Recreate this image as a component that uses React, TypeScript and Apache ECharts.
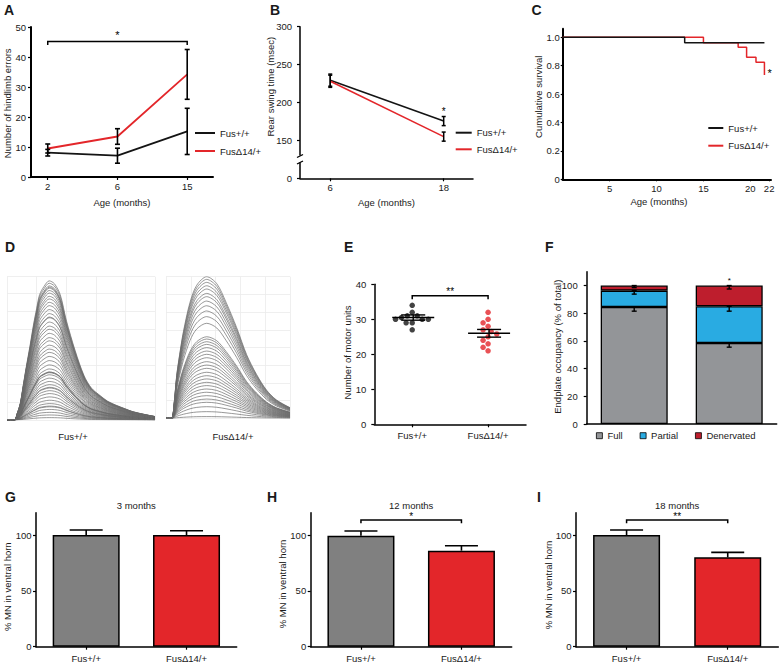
import React, { useEffect, useRef } from 'react';
import * as echarts from 'echarts';

const FONT = '"Liberation Sans", Arial, Helvetica, sans-serif';
const INK = '#1a1a1a';
const BLACK = '#141414';
const RED = '#e3262a';
const GRAY_BAR = '#808080';
const TRACE = '#6c6c6c';

// ---------- A : hindlimb errors ----------
const A_AGE_LABELS = ['2', '6', '15'];
const A_WT = [8.1, 7.1, 15.2];
const A_WT_ERR = [1.1, 2.5, 7.7];
const A_MUT = [9.5, 13.5, 34.2];
const A_MUT_ERR = [1.5, 2.6, 8.3];
const A_BRACKET = { from: 0, to: 2, value: 45.2, text: '*' };

// ---------- B : rear swing time ----------
const B_AGES = [6, 18];
const B_WT = [229.5, 175.5];
const B_WT_ERR = [8, 6];
const B_MUT = [228, 155];
const B_MUT_ERR = [8, 6];
const B_AXIS_FLOOR = 100; // broken axis, drawn as 0
const B_STAR = { x: 18, y: 188, text: '*' };

// ---------- C : survival ----------
const C_WT_T = [0, 13, 21.5];
const C_WT_S = [1, 0.962, 0.962];
const C_MUT_T = [0, 15, 18.7, 19.6, 20.6, 21.5];
const C_MUT_S = [1, 0.962, 0.93, 0.86, 0.824, 0.735];
const C_XTICKS = [5, 10, 15, 20, 22];
const C_YTICKS = [0, 0.2, 0.4, 0.6, 0.8, 1.0];
const C_STAR = { x: 22.05, y: 0.749, text: '*' };

// ---------- D : motor unit traces ----------
const D_WT_T = [0, 5, 7, 9, 11, 13, 15.5, 18, 20, 22, 25, 28.5, 32, 36, 40, 46, 52, 57, 63, 68, 74, 80, 85, 93, 100];
const D_WT_H = [0, 0, 0.05, 0.12, 0.25, 0.38, 0.53, 0.69, 0.8, 0.9, 0.96, 1, 0.98, 0.9, 0.72, 0.5, 0.32, 0.23, 0.175, 0.135, 0.105, 0.08, 0.06, 0.04, 0.025];
const D_WT_AMPS = [1.0, 0.983, 0.964, 0.955, 0.948, 0.931, 0.912, 0.889, 0.87, 0.846, 0.822, 0.794, 0.765, 0.74, 0.735, 0.704, 0.675, 0.652, 0.623, 0.592, 0.569, 0.538, 0.51, 0.486, 0.457, 0.427, 0.396, 0.367, 0.345, 0.344, 0.34, 0.325, 0.301, 0.277, 0.254, 0.235, 0.23, 0.211, 0.19, 0.166, 0.142, 0.118, 0.1, 0.095, 0.076, 0.055, 0.036, 0.017];
const D_MUT_T = [0, 4.5, 6.5, 8.6, 11, 14, 19.4, 24.8, 32.8, 41, 48.4, 57, 65, 73, 81, 89, 100];
const D_MUT_H = [0, 0, 0.1, 0.3, 0.45, 0.61, 0.82, 0.94, 1.0, 0.95, 0.82, 0.64, 0.45, 0.31, 0.2, 0.13, 0.075];
const D_MUT_AMPS = [1.0, 0.981, 0.96, 0.936, 0.913, 0.882, 0.859, 0.828, 0.795, 0.758, 0.718, 0.671, 0.576, 0.56, 0.541, 0.522, 0.499, 0.475, 0.452, 0.428, 0.4, 0.376, 0.353, 0.325, 0.301, 0.278, 0.254, 0.231, 0.207, 0.184, 0.16, 0.136, 0.113, 0.082, 0.047, 0.012];
const D_LABELS = ['Fus+/+', 'FusΔ14/+'];

// ---------- E : motor unit number ----------
const E_GROUPS = ['Fus+/+', 'FusΔ14/+'];
const E_WT = [34, 32, 31, 31, 30.5, 30, 30, 30, 29, 29, 27];
const E_MUT = [32, 30, 29, 28, 27, 26.5, 25.8, 25, 24, 23, 22, 21];
const E_MEAN = [30.5, 26];
const E_SEM = [0.75, 1.1];
const E_BRACKET = { from: 0, to: 1, value: 36.7, text: '**' };

// ---------- F : endplate occupancy ----------
const F_GROUPS = ['Fus+/+', 'FusΔ14/+'];
const F_FULL = [84.5, 58.5];
const F_PARTIAL = [11.8, 26.5];
const F_DENERV = [3.7, 15];
const F_FULL_ERR = [3, 3];
const F_PARTIAL_ERR = [2.5, 3.5];
const F_DENERV_ERR = [1.5, 2.5];
const F_YTICKS = [0, 20, 40, 60, 80, 100];
const F_STAR = { x: 1, y: 103.8, text: '*' };

// ---------- G H I : MN counts ----------
const MN_GROUPS = ['Fus+/+', 'FusΔ14/+'];
const MN_YTICKS = [0, 50, 100];
const G_VALUES = [100, 100];
const G_ERR = [4.5, 3.8];
const H_VALUES = [99.4, 86];
const H_ERR = [4.2, 4.4];
const I_VALUES = [100, 80];
const I_ERR = [4.5, 4.5];
const H_BRACKET = { from: 0, to: 1, value: 113.4, text: '*' };
const I_BRACKET = { from: 0, to: 1, value: 113.4, text: '**' };

// ---------- helpers ----------
const axisLineS = (w = 1.5) => ({ show: true, onZero: false, lineStyle: { color: '#000', width: w } });
const tickS = (len = 3, extra: any = {}) => ({ show: true, length: len, lineStyle: { color: '#000', width: 1.2 }, ...extra });
const labelS = (margin: number, extra: any = {}) => ({ fontSize: 9.5, color: INK, fontFamily: FONT, margin, ...extra });
const noSplit = { show: false };
const nameStyle = { fontSize: 9.5, color: INK, fontFamily: FONT };

const seg = (x1: number, y1: number, x2: number, y2: number, w = 1.5) => ({
  type: 'line',
  shape: { x1, y1, x2, y2 },
  style: { stroke: '#000', lineWidth: w },
});

const errBarRender = (capHalf: number, mode: 'both' | 'up' | 'down', w = 1.5) => (params: any, api: any) => {
  const x = api.value(0);
  const y = api.value(1);
  const e = api.value(2);
  const lo = mode === 'up' ? y : y - e;
  const hi = mode === 'down' ? y : y + e;
  const p1 = api.coord([x, lo]);
  const p2 = api.coord([x, hi]);
  const children: any[] = [seg(p1[0], p1[1], p2[0], p2[1], w)];
  if (mode !== 'up') children.push(seg(p1[0] - capHalf, p1[1], p1[0] + capHalf, p1[1], w));
  children.push(seg(p2[0] - capHalf, p2[1], p2[0] + capHalf, p2[1], w));
  return { type: 'group', children };
};

const textEl = (text: string, x: number, y: number, size = 11) => ({
  type: 'text',
  x,
  y,
  style: {
    text,
    fill: '#000',
    fontSize: size,
    fontFamily: FONT,
    align: 'center',
    verticalAlign: 'middle',
    textAlign: 'center',
    textVerticalAlign: 'middle',
  },
});

const bracketSeries = (axis: number, b: any, drop: number, gap: number, size = 11) => ({
  type: 'custom',
  xAxisIndex: axis,
  yAxisIndex: axis,
  silent: true,
  z: 5,
  data: [[b.from, b.value]],
  renderItem: (params: any, api: any) => {
    const p1 = api.coord([b.from, b.value]);
    const p2 = api.coord([b.to, b.value]);
    return {
      type: 'group',
      children: [
        {
          type: 'polyline',
          shape: { points: [[p1[0], p1[1] + drop], [p1[0], p1[1]], [p2[0], p2[1]], [p2[0], p2[1] + drop]] },
          style: { stroke: '#000', lineWidth: 1.5, fill: 'none' },
        },
        textEl(b.text, (p1[0] + p2[0]) / 2, p1[1] - gap, size),
      ],
    };
  },
});

const starSeries = (axis: number, s: any, size = 11) => ({
  type: 'custom',
  xAxisIndex: axis,
  yAxisIndex: axis,
  silent: true,
  z: 5,
  data: [[s.x, s.y]],
  renderItem: (params: any, api: any) => {
    const p = api.coord([s.x, s.y]);
    return textEl(s.text, p[0], p[1], size);
  },
});

const gText = (text: string, x: number, y: number, opts: any = {}) => ({
  type: 'text',
  x,
  y,
  rotation: opts.rot || 0,
  z: 100,
  style: {
    text,
    fill: INK,
    fontSize: opts.size || 9.5,
    fontWeight: opts.weight || 'normal',
    fontFamily: FONT,
    align: opts.align || 'center',
    verticalAlign: 'middle',
    textAlign: opts.align || 'center',
    textVerticalAlign: 'middle',
  },
});

const traceSeries = (ts: number[], hs: number[], amps: number[], axis: number) =>
  amps.map((a) => ({
    type: 'line',
    xAxisIndex: axis,
    yAxisIndex: axis,
    data: ts.map((t, i) => [t, hs[i] * a]),
    symbol: 'none',
    smooth: 0.3,
    silent: true,
    lineStyle: { color: TRACE, width: 0.7 },
    z: 2,
  }));

function buildOption() {
  const grid = [
    { left: 31, top: 27, width: 182, height: 150 }, // A
    { left: 300, top: 26.7, width: 173, height: 151.6 }, // B
    { left: 562.7, top: 28.8, width: 208.3, height: 150.5 }, // C
    { left: 7, top: 276.7, width: 148, height: 143.3 }, // D left
    { left: 166, top: 276.7, width: 124, height: 141.6 }, // D right
    { left: 374.3, top: 284.3, width: 151.7, height: 140 }, // E
    { left: 586.7, top: 271.7, width: 190, height: 152.3 }, // F
    { left: 36, top: 512.7, width: 200.7, height: 134 }, // G
    { left: 310.7, top: 512.7, width: 201, height: 134 }, // H
    { left: 576, top: 512.7, width: 202.3, height: 134 }, // I
  ].map((g) => ({ ...g, containLabel: false, outerBoundsMode: 'none' }));

  const hiddenAxis = (gridIndex: number, min: number, max: number, interval: number) => ({
    gridIndex,
    type: 'value',
    min,
    max,
    interval,
    axisLine: { show: false, onZero: false },
    axisTick: { show: false },
    axisLabel: { show: false },
    splitLine: { show: true, lineStyle: { color: '#ebebeb', width: 0.8 } },
  });

  const mnX = (gridIndex: number) => ({
    gridIndex,
    type: 'category',
    data: MN_GROUPS,
    axisLine: axisLineS(1.5),
    axisTick: tickS(3, { alignWithLabel: true }),
    axisLabel: labelS(7),
    splitLine: noSplit,
  });
  const mnY = (gridIndex: number) => ({
    gridIndex,
    type: 'value',
    min: 0,
    max: 120,
    axisLine: axisLineS(1.5),
    axisTick: tickS(3, { customValues: MN_YTICKS }),
    axisLabel: labelS(4.5, { customValues: MN_YTICKS }),
    splitLine: noSplit,
  });

  const xAxis = [
    {
      gridIndex: 0, type: 'value', min: -0.24, max: 2.37,
      axisLine: axisLineS(2),
      axisTick: tickS(3, { customValues: [0, 1, 2] }),
      axisLabel: labelS(4, { customValues: [0, 1, 2], formatter: (v: number) => A_AGE_LABELS[Math.round(v)] }),
      splitLine: noSplit,
      name: 'Age (months)', nameLocation: 'middle', nameGap: 20, nameTextStyle: nameStyle,
    },
    {
      gridIndex: 1, type: 'value', min: 2.8, max: 21.1,
      axisLine: axisLineS(1.5),
      axisTick: tickS(3, { customValues: B_AGES }),
      axisLabel: labelS(4.2, { customValues: B_AGES, formatter: (v: number) => String(v) }),
      splitLine: noSplit,
      name: 'Age (months)', nameLocation: 'middle', nameGap: 18.7, nameTextStyle: nameStyle,
    },
    {
      gridIndex: 2, type: 'value', min: 0, max: 22.2,
      axisLine: axisLineS(2),
      axisTick: tickS(2, { customValues: C_XTICKS }),
      axisLabel: labelS(4, { customValues: C_XTICKS, formatter: (v: number) => String(v) }),
      splitLine: noSplit,
    },
    hiddenAxis(3, 0, 100, 20),
    hiddenAxis(4, 0, 100, 20),
    {
      gridIndex: 5, type: 'category', data: E_GROUPS,
      jitter: 34, jitterOverlap: false, jitterMargin: 0.6,
      axisLine: axisLineS(1.5),
      axisTick: tickS(3, { alignWithLabel: true }),
      axisLabel: labelS(6.5),
      splitLine: noSplit,
    },
    {
      gridIndex: 6, type: 'category', data: F_GROUPS,
      axisLine: axisLineS(1.5),
      axisTick: { show: false },
      axisLabel: { show: false },
      splitLine: noSplit,
    },
    mnX(7),
    mnX(8),
    mnX(9),
  ];

  const yAxis = [
    {
      gridIndex: 0, type: 'value', min: 0, max: 50, interval: 10,
      axisLine: axisLineS(2), axisTick: tickS(3), axisLabel: labelS(5), splitLine: noSplit,
    },
    {
      gridIndex: 1, type: 'value', min: B_AXIS_FLOOR, max: 300, interval: 50,
      axisLine: axisLineS(1.5), axisTick: tickS(3),
      axisLabel: labelS(8, { formatter: (v: number) => (v === B_AXIS_FLOOR ? '0' : String(v)) }),
      splitLine: noSplit,
    },
    {
      gridIndex: 2, type: 'value', min: 0, max: 1.06,
      axisLine: axisLineS(2),
      axisTick: tickS(2, { customValues: C_YTICKS }),
      axisLabel: labelS(3, { customValues: C_YTICKS, formatter: (v: number) => (v === 0 ? '0' : v.toFixed(1)) }),
      splitLine: noSplit,
    },
    hiddenAxis(3, 0, 1.03, 0.13),
    hiddenAxis(4, 0, 1.0, 0.125),
    {
      gridIndex: 5, type: 'value', min: 0, max: 40, interval: 10,
      axisLine: axisLineS(1.5), axisTick: tickS(3), axisLabel: labelS(8), splitLine: noSplit,
    },
    {
      gridIndex: 6, type: 'value', min: 0, max: 110,
      axisLine: axisLineS(1.5),
      axisTick: tickS(3, { customValues: F_YTICKS }),
      axisLabel: labelS(9, { customValues: F_YTICKS }),
      splitLine: noSplit,
    },
    mnY(7),
    mnY(8),
    mnY(9),
  ];

  const series: any[] = [];

  // A
  series.push({
    type: 'line', name: 'Fus+/+', xAxisIndex: 0, yAxisIndex: 0, color: BLACK,
    data: A_WT.map((v, i) => [i, v]), symbol: 'none', lineStyle: { width: 1.8, color: BLACK },
  });
  series.push({
    type: 'line', name: 'FusΔ14/+', xAxisIndex: 0, yAxisIndex: 0, color: RED,
    data: A_MUT.map((v, i) => [i, v]), symbol: 'none', lineStyle: { width: 1.8, color: RED },
  });
  series.push({
    type: 'custom', xAxisIndex: 0, yAxisIndex: 0, silent: true, z: 4,
    data: [...A_WT.map((v, i) => [i, v, A_WT_ERR[i]]), ...A_MUT.map((v, i) => [i, v, A_MUT_ERR[i]])],
    renderItem: errBarRender(2.5, 'both', 1.6),
  });
  series.push(bracketSeries(0, A_BRACKET, 3.7, 6, 11));

  // B
  series.push({
    type: 'line', name: 'Fus+/+', xAxisIndex: 1, yAxisIndex: 1, color: BLACK,
    data: B_WT.map((v, i) => [B_AGES[i], v]), symbol: 'none', lineStyle: { width: 1.6, color: BLACK },
  });
  series.push({
    type: 'line', name: 'FusΔ14/+', xAxisIndex: 1, yAxisIndex: 1, color: RED,
    data: B_MUT.map((v, i) => [B_AGES[i], v]), symbol: 'none', lineStyle: { width: 1.6, color: RED },
  });
  series.push({
    type: 'custom', xAxisIndex: 1, yAxisIndex: 1, silent: true, z: 4,
    data: [...B_WT.map((v, i) => [B_AGES[i], v, B_WT_ERR[i]]), ...B_MUT.map((v, i) => [B_AGES[i], v, B_MUT_ERR[i]])],
    renderItem: errBarRender(2, 'both', 1.5),
  });
  series.push(starSeries(1, B_STAR, 10));

  // C (red first so black overlays the shared segments)
  series.push({
    type: 'line', name: 'FusΔ14/+', xAxisIndex: 2, yAxisIndex: 2, color: RED, step: 'end',
    data: C_MUT_T.map((t, i) => [t, C_MUT_S[i]]), symbol: 'none', lineStyle: { width: 1.5, color: RED },
  });
  series.push({
    type: 'line', name: 'Fus+/+', xAxisIndex: 2, yAxisIndex: 2, color: BLACK, step: 'end',
    data: C_WT_T.map((t, i) => [t, C_WT_S[i]]), symbol: 'none', lineStyle: { width: 1.5, color: BLACK },
  });
  series.push(starSeries(2, C_STAR, 11));

  // D traces
  series.push(...traceSeries(D_WT_T, D_WT_H, D_WT_AMPS, 3));
  series.push(...traceSeries(D_MUT_T, D_MUT_H, D_MUT_AMPS, 4));

  // E
  series.push({
    type: 'scatter', xAxisIndex: 5, yAxisIndex: 5, symbolSize: 5.5,
    itemStyle: { color: BLACK }, data: E_WT.map((v) => [0, v]), z: 3,
  });
  series.push({
    type: 'scatter', xAxisIndex: 5, yAxisIndex: 5, symbolSize: 5.5,
    itemStyle: { color: RED }, data: E_MUT.map((v) => [1, v]), z: 3,
  });
  series.push({
    type: 'custom', xAxisIndex: 5, yAxisIndex: 5, silent: true, z: 4,
    data: E_MEAN.map((m, i) => [i, m, E_SEM[i]]),
    renderItem: (params: any, api: any) => {
      const c = api.value(0);
      const m = api.value(1);
      const s = api.value(2);
      const pm = api.coord([c, m]);
      const pt = api.coord([c, m + s]);
      const pb = api.coord([c, m - s]);
      return {
        type: 'group',
        children: [
          seg(pm[0] - 20, pm[1], pm[0] + 22, pm[1], 1.6),
          seg(pt[0] - 11, pt[1], pt[0] + 13, pt[1], 1.4),
          seg(pb[0] - 11, pb[1], pb[0] + 13, pb[1], 1.4),
          seg(pt[0] + 1, pt[1], pb[0] + 1, pb[1], 1.4),
        ],
      };
    },
  });
  series.push(bracketSeries(5, E_BRACKET, 3.3, 4, 10));

  // F
  const fBar = (name: string, data: number[], color: string) => ({
    type: 'bar', name, stack: 'occ', xAxisIndex: 6, yAxisIndex: 6, barWidth: 67, color,
    data, itemStyle: { color, borderColor: '#000', borderWidth: 1.3 },
  });
  series.push(fBar('Full', F_FULL, '#939598'));
  series.push(fBar('Partial', F_PARTIAL, '#29abe2'));
  series.push(fBar('Denervated', F_DENERV, '#be1e2d'));
  const fSegs = [F_FULL, F_PARTIAL, F_DENERV];
  const fErrs = [F_FULL_ERR, F_PARTIAL_ERR, F_DENERV_ERR];
  const fErrData: number[][] = [];
  F_GROUPS.forEach((_, g) => {
    let cum = 0;
    fSegs.forEach((s, k) => {
      cum += s[g];
      fErrData.push([g, cum, fErrs[k][g]]);
    });
  });
  series.push({
    type: 'custom', xAxisIndex: 6, yAxisIndex: 6, silent: true, z: 4,
    data: fErrData, renderItem: errBarRender(2.5, 'down', 1.4),
  });
  series.push(starSeries(6, F_STAR, 8));

  // G H I
  const mnBars = (axis: number, values: number[], errs: number[]) => {
    series.push({
      type: 'bar', xAxisIndex: axis, yAxisIndex: axis, barWidth: 67,
      data: values.map((v, i) => ({ value: v, itemStyle: { color: i === 0 ? GRAY_BAR : RED } })),
      itemStyle: { borderColor: '#000', borderWidth: 1.5 },
    });
    series.push({
      type: 'custom', xAxisIndex: axis, yAxisIndex: axis, silent: true, z: 4,
      data: values.map((v, i) => [i, v, errs[i]]), renderItem: errBarRender(16.5, 'up', 1.6),
    });
  };
  mnBars(7, G_VALUES, G_ERR);
  mnBars(8, H_VALUES, H_ERR);
  mnBars(9, I_VALUES, I_ERR);
  series.push(bracketSeries(8, H_BRACKET, 3.3, 4, 10));
  series.push(bracketSeries(9, I_BRACKET, 3.3, 4, 10));

  const legText = { fontSize: 9.5, fontFamily: FONT, color: INK, lineHeight: 12 };
  const lineLegend = (left: number, top: number, itemWidth: number, itemGap: number) => ({
    data: ['Fus+/+', 'FusΔ14/+'], left, top, orient: 'vertical', icon: 'rect',
    itemWidth, itemHeight: 2, itemGap, padding: 0, selectedMode: false, textStyle: legText,
  });
  const legend = [
    lineLegend(195, 127, 20, 6),
    lineLegend(455.7, 126.7, 16, 4.6),
    lineLegend(708.3, 122, 15, 5.7),
    {
      data: ['Full', 'Partial', 'Denervated'], left: 596, top: 429.7, orient: 'horizontal', icon: 'rect',
      itemWidth: 6, itemHeight: 6, itemGap: 17, padding: 0, selectedMode: false, textStyle: legText,
      itemStyle: { borderColor: '#000', borderWidth: 0.8 },
    },
  ];

  const R = Math.PI / 2;
  const graphic = [
    // panel letters
    gText('A', 4, 10, { size: 14, weight: 'bold', align: 'left' }),
    gText('B', 270, 10, { size: 14, weight: 'bold', align: 'left' }),
    gText('C', 531.5, 10, { size: 14, weight: 'bold', align: 'left' }),
    gText('D', 5, 246.7, { size: 14, weight: 'bold', align: 'left' }),
    gText('E', 344, 246.7, { size: 14, weight: 'bold', align: 'left' }),
    gText('F', 545, 246.7, { size: 14, weight: 'bold', align: 'left' }),
    gText('G', 5, 497.3, { size: 14, weight: 'bold', align: 'left' }),
    gText('H', 267, 497.3, { size: 14, weight: 'bold', align: 'left' }),
    gText('I', 537, 497.3, { size: 14, weight: 'bold', align: 'left' }),
    // axis titles
    gText('Number of hindlimb errors', 7.3, 103.3, { rot: R }),
    gText('Rear swing time (msec)', 270, 86.7, { rot: R }),
    gText('Cumulative survival', 538.3, 96.7, { rot: R }),
    gText('Age (months)', 659, 201.7),
    gText('Number of motor units', 347.3, 352.5, { rot: R }),
    gText('Endplate occupancy (% of total)', 557.3, 346.7, { rot: R }),
    gText('% MN in ventral horn', 7.3, 586.7, { rot: R }),
    gText('% MN in ventral horn', 282.7, 584, { rot: R }),
    gText('% MN in ventral horn', 548.3, 585, { rot: R }),
    // D labels
    gText(D_LABELS[0], 73, 436.7),
    gText(D_LABELS[1], 233, 436.7),
    // G H I titles
    gText('3 months', 136.3, 505),
    gText('12 months', 411.2, 505),
    gText('18 months', 677.2, 505),
    // B axis break
    { type: 'rect', z: 100, shape: { x: 296, y: 155.5, width: 8, height: 7 }, style: { fill: '#fff' } },
    { type: 'line', z: 101, shape: { x1: 297, y1: 157.5, x2: 303, y2: 154.5 }, style: { stroke: '#000', lineWidth: 1.3 } },
    { type: 'line', z: 101, shape: { x1: 297, y1: 164, x2: 303, y2: 161 }, style: { stroke: '#000', lineWidth: 1.3 } },
  ];

  return {
    animation: false,
    backgroundColor: '#ffffff',
    textStyle: { fontFamily: FONT },
    grid,
    xAxis,
    yAxis,
    legend,
    graphic,
    series,
  };
}

export default function App() {
  const ref = useRef<HTMLDivElement>(null);
  useEffect(() => {
    if (!ref.current) return;
    const chart = echarts.init(ref.current, undefined, { renderer: 'svg' });
    chart.setOption(buildOption() as any);
    return () => chart.dispose();
  }, []);
  return (
    <div
      ref={ref}
      style={{ position: 'absolute', left: 0, top: 0, width: 780, height: 664, background: '#fff' }}
    />
  );
}
